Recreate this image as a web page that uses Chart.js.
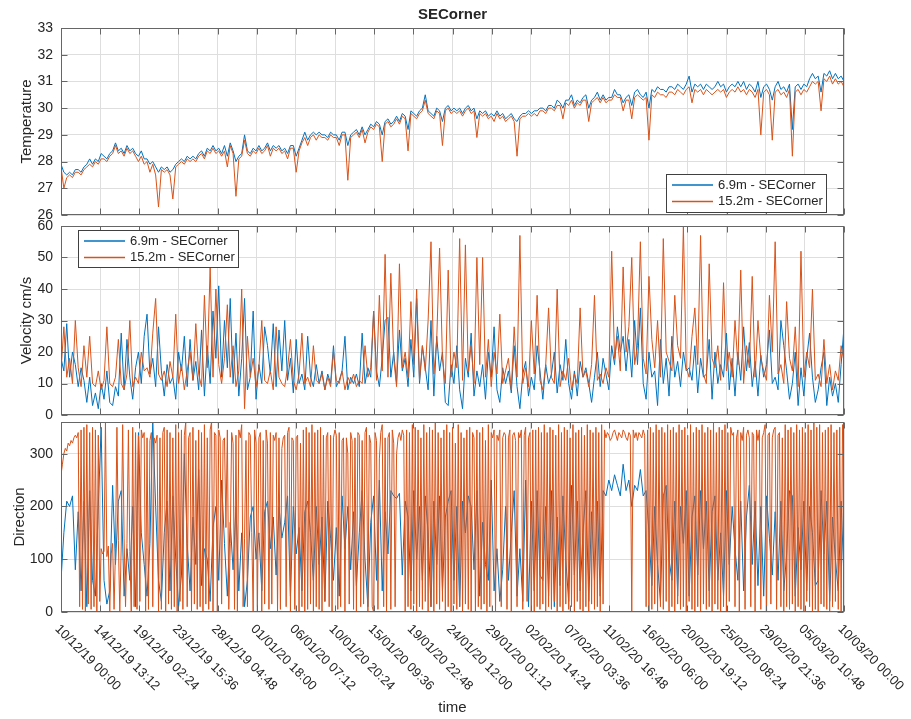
<!DOCTYPE html>
<html>
<head>
<meta charset="utf-8">
<title>SECorner</title>
<script src="https://cdn.jsdelivr.net/npm/chart.js@4.4.1/dist/chart.umd.min.js"></script>
<style>
  body { margin: 0; background: #fff; }
  #wrap { position: relative; width: 911px; height: 719px; overflow: hidden; }
  #wrap canvas { position: absolute; left: 0; }
</style>
</head>
<body>
<div id="wrap">
  <canvas id="tempChart" width="911" height="235" style="top:0px"></canvas>
  <canvas id="velChart" width="911" height="229" style="top:206px"></canvas>
  <canvas id="dirChart" width="911" height="317" style="top:402px"></canvas>
</div>
<script>
// 10/12/19 00:00 to 10/03/20 00:00; most series 8-hourly, 15.2m direction 4-hourly
const totalDays = 91;
const perDay = 3;
const perDayDir152 = 6;

const timeTicks = [
  '10/12/19 00:00', '14/12/19 13:12', '19/12/19 02:24', '23/12/19 15:36',
  '28/12/19 04:48', '01/01/20 18:00', '06/01/20 07:12', '10/01/20 20:24',
  '15/01/20 09:36', '19/01/20 22:48', '24/01/20 12:00', '29/01/20 01:12',
  '02/02/20 14:24', '07/02/20 03:36', '11/02/20 16:48', '16/02/20 06:00',
  '20/02/20 19:12', '25/02/20 08:24', '29/02/20 21:36', '05/03/20 10:48',
  '10/03/20 00:00'
];

const name69 = '6.9m - SECorner';
const name152 = '15.2m - SECorner';

const temp69 = [
  27.9, 27.6, 27.5, 27.6, 27.5, 27.7, 27.7, 27.6, 27.8, 27.9, 28.1, 27.9,
  28.1, 28.0, 28.3, 28.2, 28.1, 28.3, 28.4, 28.7, 28.4, 28.5, 28.3, 28.6,
  28.4, 28.5, 28.3, 28.2, 28.4, 28.1, 28.1, 27.9, 28.0, 27.8, 27.6, 27.8,
  27.7, 27.8, 27.6, 27.7, 27.9, 28.0, 28.1, 28.0, 28.2, 28.1, 28.2, 28.1,
  28.3, 28.4, 28.2, 28.5, 28.4, 28.6, 28.4, 28.5, 28.3, 28.6, 28.2, 28.7,
  28.4, 28.0, 28.2, 28.3, 29.0, 28.4, 28.3, 28.5, 28.4, 28.6, 28.4, 28.5,
  28.7, 28.4, 28.6, 28.5, 28.6, 28.4, 28.5, 28.3, 28.6, 28.6, 28.2, 28.5,
  28.8, 29.1, 28.8, 29.0, 29.1, 29.0, 29.1, 29.0, 29.0, 28.9, 29.1, 29.0,
  29.0, 28.8, 29.1, 29.1, 28.6, 29.0, 29.1, 29.2, 29.0, 29.3, 29.0, 29.2,
  29.4, 29.3, 29.5, 29.4, 29.0, 29.5, 29.6, 29.4, 29.5, 29.7, 29.5, 29.8,
  29.7, 29.2, 29.9, 29.8, 29.7, 29.9, 30.0, 30.5, 29.9, 29.8, 29.7, 30.0,
  29.9, 29.5, 30.0, 30.1, 29.9, 30.0, 29.9, 30.0, 29.8, 30.0, 30.1, 29.9,
  30.0, 29.6, 29.9, 29.8, 29.9, 29.7, 29.8, 29.7, 29.9, 29.7, 29.8, 29.6,
  29.7, 29.8, 29.6, 29.5, 29.7, 29.8, 29.8, 29.9, 29.8, 29.9, 29.9, 30.0,
  30.0, 29.9, 30.1, 30.1, 30.0, 30.3, 30.2, 30.0, 30.3, 30.3, 30.5, 30.1,
  30.3, 30.2, 30.4, 30.5, 30.0, 30.3, 30.4, 30.6, 30.3, 30.5, 30.3, 30.4,
  30.4, 30.7, 30.5, 30.5, 30.2, 30.4, 30.5, 30.1, 30.6, 30.7, 30.5, 30.4,
  30.6, 30.0, 30.7, 30.6, 30.8, 30.7, 30.7, 30.6, 30.8, 30.8, 30.7, 30.9,
  30.8, 30.7, 30.9, 31.2, 30.6, 30.9, 30.8, 30.9, 30.7, 30.9, 30.8, 30.7,
  30.8, 31.0, 30.8, 30.9, 30.6, 30.8, 30.9, 30.8, 31.0, 30.8, 31.0, 30.7,
  30.9, 30.8, 30.6, 31.0, 30.4, 30.8, 30.9, 30.7, 30.3, 30.8, 31.0, 30.7,
  30.8, 30.6, 30.9, 29.2, 30.8, 30.9, 30.7, 30.9, 30.8, 31.1, 31.3, 31.1,
  31.2, 30.6, 31.3, 31.2, 31.4, 31.1, 31.3, 31.1, 31.2, 31.0
];

const temp152 = [
  27.8, 27.0, 27.4, 27.5, 27.4, 27.6, 27.6, 27.5, 27.7, 27.8, 27.9, 27.8,
  28.0, 27.9, 28.1, 28.1, 28.0, 28.2, 28.3, 28.6, 28.3, 28.4, 28.2, 28.5,
  28.3, 28.4, 28.2, 28.0, 28.2, 27.9, 28.0, 27.6, 27.9, 27.5, 26.3, 27.7,
  27.6, 27.7, 27.5, 26.6, 27.8, 27.9, 28.0, 27.9, 28.1, 28.0, 28.1, 28.0,
  28.2, 28.3, 28.1, 28.4, 28.3, 28.5, 28.3, 28.4, 28.2, 28.4, 27.8, 28.6,
  28.3, 26.7, 28.1, 28.2, 28.8, 28.3, 28.2, 28.4, 28.3, 28.5, 28.3, 28.4,
  28.6, 28.2, 28.5, 28.4, 28.5, 28.3, 28.4, 28.1, 28.5, 28.5, 27.6, 28.4,
  28.7, 28.9, 28.6, 28.9, 29.0, 28.8, 29.0, 28.9, 28.9, 28.8, 29.0, 28.9,
  28.9, 28.6, 29.0, 29.0, 27.3, 28.9, 29.0, 29.1, 28.9, 29.2, 28.7, 29.1,
  29.3, 29.2, 29.4, 29.3, 28.0, 29.4, 29.5, 29.3, 29.4, 29.6, 29.4, 29.7,
  29.6, 28.4, 29.8, 29.7, 29.6, 29.8, 29.9, 30.3, 29.8, 29.7, 29.6, 29.9,
  29.8, 28.6, 29.9, 30.0, 29.8, 29.9, 29.8, 29.9, 29.7, 29.9, 30.0, 29.8,
  29.9, 28.9, 29.8, 29.7, 29.8, 29.6, 29.7, 29.5, 29.8, 29.6, 29.7, 29.5,
  29.6, 29.7, 29.5, 28.2, 29.6, 29.7, 29.7, 29.8, 29.7, 29.8, 29.7, 29.9,
  29.9, 29.8, 30.0, 30.0, 29.9, 30.1, 30.1, 29.6, 30.2, 30.1, 30.3, 30.0,
  30.2, 30.1, 30.3, 30.3, 29.5, 30.2, 30.3, 30.4, 30.2, 30.4, 30.2, 30.3,
  30.3, 30.5, 30.4, 30.4, 29.9, 30.3, 30.3, 29.6, 30.4, 30.5, 30.4, 30.3,
  30.4, 28.8, 30.5, 30.4, 30.6, 30.5, 30.5, 30.4, 30.6, 30.6, 30.5, 30.7,
  30.6, 30.5, 30.7, 30.8, 30.2, 30.7, 30.6, 30.7, 30.5, 30.7, 30.6, 30.5,
  30.6, 30.7, 30.6, 30.7, 30.4, 30.6, 30.7, 30.6, 30.8, 30.6, 30.7, 30.5,
  30.7, 30.6, 30.4, 30.7, 29.0, 30.6, 30.7, 30.5, 28.8, 30.6, 30.7, 30.5,
  30.6, 30.4, 30.7, 28.2, 30.6, 30.7, 30.5, 30.7, 30.6, 30.8, 31.0, 30.9,
  31.0, 29.9, 31.1, 31.0, 31.2, 30.9, 31.1, 30.9, 31.0, 30.8
];

const vel69 = [
  18, 14, 29, 12, 20, 16, 9, 15, 11, 4, 12, 3,
  7, 2, 10, 5, 14, 4, 3, 9, 6, 26, 8, 24,
  12, 5, 15, 20, 10, 25, 32, 13, 18, 9, 28, 14,
  6, 16, 10, 12, 5, 20, 14, 25, 9, 24, 11, 17,
  8, 27, 6, 22, 10, 33, 18, 41, 12, 30, 15, 37,
  10, 26, 6, 18, 37, 8, 12, 33, 5, 16, 10, 28,
  22, 13, 29, 9, 27, 14, 30, 11, 18, 7, 24, 10,
  13, 8, 25, 12, 9, 16, 10, 14, 8, 13, 10, 22,
  9, 11, 14, 25, 8, 12, 10, 13, 9, 26, 10, 15,
  12, 33, 14, 9, 18, 30, 31, 12, 20, 10, 27, 14,
  18, 9, 24, 12, 37, 10, 22, 15, 8, 30, 6, 25,
  14, 20, 4, 3, 16, 10, 22, 8, 2, 18, 12, 26,
  6, 14, 9, 16, 5, 20, 12, 28, 8, 4, 15, 10,
  14, 7, 22, 9, 2, 13, 17, 6, 12, 8, 22, 14,
  5, 16, 10, 13, 20, 7, 16, 11, 24, 10, 5, 14,
  6, 17, 12, 15, 10, 4, 12, 20, 9, 18, 13, 8,
  22, 16, 28, 20, 25, 14, 24, 12, 30, 16, 34, 10,
  5, 20, 12, 14, 3, 24, 10, 18, 6, 25, 12, 17,
  9, 20, 14, 15, 11, 22, 7, 18, 12, 13, 24, 5,
  20, 10, 16, 12, 26, 8, 18, 6, 20, 11, 28, 14,
  23, 9, 17, 6, 19, 12, 16, 27, 10, 12, 8, 30,
  22, 14, 5, 10, 20, 3, 15, 6, 18, 26, 12, 4,
  8, 15, 20, 3, 12, 6, 10, 4, 16, 28
];

const vel152 = [
  14, 28, 12, 18, 10, 30, 15, 9, 22, 12, 25, 10,
  9, 14, 8, 11, 28, 10, 9, 12, 24, 10, 8, 13,
  30, 9, 12, 10, 20, 14, 15, 12, 26, 37, 13, 11,
  14, 9, 17, 12, 32, 10, 16, 8, 14, 20, 11, 29,
  13, 9, 38, 15, 47, 12, 40, 16, 10, 18, 35, 12,
  22, 9, 14, 40, 2, 25, 12, 18, 9, 15, 30, 11,
  10, 14, 8, 28, 12, 10, 9, 15, 24, 11, 8, 13,
  26, 10, 12, 9, 22, 11, 10, 13, 8, 12, 9, 20,
  11, 10, 14, 8, 12, 10, 13, 9, 11, 10, 22, 12,
  15, 33, 11, 38, 14, 51, 12, 45, 18, 9, 48, 15,
  20, 12, 36, 16, 40, 11, 22, 14, 30, 55, 13, 24,
  53, 18, 10, 46, 12, 20, 15, 56, 11, 54, 14, 22,
  10, 50, 16, 50, 12, 24, 9, 20, 13, 32, 10, 14,
  18, 8, 28, 12, 57, 10, 15, 9, 30, 13, 38, 11,
  8, 16, 34, 12, 10, 40, 9, 14, 11, 18, 8, 13,
  10, 34, 12, 14, 9, 16, 38, 11, 13, 10, 15, 12,
  52, 18, 25, 14, 47, 20, 28, 50, 16, 22, 55, 18,
  13, 44, 24, 15, 30, 12, 56, 20, 17, 14, 38, 22,
  18, 60, 15, 12, 25, 34, 16, 57, 13, 10, 48, 18,
  15, 22, 11, 42, 14, 20, 12, 30, 16, 46, 10, 22,
  15, 44, 12, 30, 18, 14, 11, 38, 20, 55, 13, 16,
  10, 36, 18, 14, 28, 9, 52, 12, 20, 15, 40, 11,
  13, 9, 24, 10, 16, 8, 14, 11, 22, 17
];

const dir69 = [
  60, 150, 210, 200, 220, 80, 190, 40, 210, 10, 230, 60,
  30, 200, 350, 60, 15, 40, 240, 90, 210, 230, 30, 120,
  60, 200, 10, 340, 150, 90, 30, 130, 360, 200, 60, 20,
  150, 210, 40, 220, 100, 10, 70, 300, 130, 40, 180, 90,
  270, 50, 120, 100, 20, 160, 200, 60, 250, 130, 30, 170,
  80, 200, 40, 150, 10, 60, 180, 200, 100, 150, 40, 190,
  210, 120, 180, 70, 200, 140, 170, 220, 30, 200, 110, 160,
  40, 190, 210, 150, 60, 200, 90, 180, 20, 210, 140, 60,
  160, 30, 220, 120, 200, 80, 190, 50, 150, 230, 100, 10,
  170, 220, 60, 250, 40, 190, 110, 230, 220, 215, 225, 70,
  210, 180, 40, 230, 100, 200, 60, 220, 150, 10, 210, 90,
  220, 40, 180, 210, 230, 60, 200, 10, 210, 150, 220, 200,
  80, 230, 30, 170, 90, 60, 250, 40, 120, 20, 80, 200,
  60, 150, 230, 30, 120, 20, 250, 10, 210, 40, 230, 70,
  60, 200, 30, 230, 10, 180, 50, 220, 100, 20, 240, 70,
  210, 40, 150, 230, 20, 190, 60, 210, 30, 230, 220, 250,
  230, 260, 240, 220, 280, 230, 250, 200, 240, 230, 270, 220,
  230, 150, 50, 200, 90, 20, 220, 240, 100, 60, 210, 30,
  200, 130, 230, 30, 180, 220, 70, 230, 120, 210, 40, 190,
  220, 60, 150, 30, 230, 90, 200, 120, 60, 210, 40, 180,
  240, 90, 210, 50, 200, 30, 220, 140, 70, 190, 60, 210,
  40, 110, 230, 220, 30, 160, 80, 210, 40, 200, 150, 50,
  60, 230, 110, 210, 20, 180, 100, 40, 210, 60
];

const dir152 = [
  260, 280, 300, 310, 305, 320, 315, 325, 320, 330, 335, 330,
  340, 10, 345, 5, 350, 0, 355, 15, 340, 5, 350, 10,
  345, 0, 335, 20, 120, 110, 115, 360, 105, 125, 0, 110,
  130, 5, 120, 350, 135, 0, 125, 355, 140, 10, 130, 345,
  115, 0, 350, 10, 340, 5, 335, 20, 345, 330, 340, 0,
  330, 5, 325, 340, 10, 330, 320, 335, 0, 330, 5, 340,
  350, 0, 345, 15, 340, 5, 330, 10, 355, 0, 340, 20,
  345, 5, 335, 360, 10, 330, 340, 0, 350, 15, 325, 5,
  345, 10, 340, 0, 355, 15, 330, 5, 345, 360, 0, 340,
  335, 0, 345, 330, 15, 325, 330, 160, 345, 5, 130, 340,
  320, 5, 335, 0, 345, 330, 355, 10, 140, 325, 10, 340,
  335, 150, 0, 345, 320, 10, 330, 340, 0, 325, 15, 345,
  320, 5, 340, 15, 335, 325, 340, 0, 330, 5, 310, 330,
  335, 10, 340, 350, 0, 330, 325, 5, 330, 335, 0, 320,
  10, 345, 0, 350, 5, 340, 15, 355, 0, 340, 10, 345,
  5, 350, 0, 335, 20, 330, 340, 10, 335, 0, 330, 345,
  335, 5, 340, 10, 325, 330, 0, 330, 300, 15, 340, 325,
  5, 330, 0, 340, 335, 10, 325, 15, 340, 350, 0, 335,
  320, 10, 0, 340, 325, 5, 290, 340, 355, 10, 330, 0,
  330, 340, 5, 345, 320, 10, 300, 330, 340, 325, 345, 335,
  0, 345, 10, 340, 5, 355, 15, 350, 0, 345, 10, 330,
  5, 355, 20, 340, 0, 350, 10, 345, 0, 360, 15, 340,
  5, 330, 20, 345, 0, 355, 10, 340, 0, 350, 15, 320,
  5, 355, 10, 340, 0, 330, 15, 345, 5, 350, 0, 340,
  330, 0, 345, 10, 340, 5, 350, 15, 325, 0, 355, 10,
  340, 330, 345, 0, 335, 325, 345, 10, 330, 340, 335, 5,
  330, 345, 0, 335, 340, 325, 10, 340, 330, 345, 5, 335,
  350, 20, 330, 340, 0, 345, 0, 345, 10, 350, 5, 340,
  15, 355, 0, 340, 10, 350, 5, 345, 20, 335, 0, 355,
  10, 340, 0, 350, 15, 345, 5, 330, 10, 355, 0, 340,
  20, 345, 5, 350, 0, 335, 10, 355, 0, 345, 15, 340,
  5, 350, 10, 340, 0, 355, 15, 345, 330, 340, 335, 325,
  330, 340, 345, 335, 325, 340, 335, 330, 345, 340, 330, 325,
  340, 335, 0, 345, 330, 340, 325, 340, 335, 330, 345, 335,
  10, 345, 0, 350, 5, 340, 15, 355, 0, 345, 10, 350,
  5, 340, 20, 355, 0, 345, 10, 350, 0, 340, 15, 355,
  5, 345, 10, 350, 0, 335, 20, 355, 5, 340, 0, 350,
  10, 345, 0, 355, 15, 340, 5, 350, 10, 345, 0, 360,
  15, 340, 5, 350, 0, 345, 10, 355, 0, 340, 20, 350,
  335, 340, 10, 330, 345, 0, 340, 325, 350, 5, 335, 345,
  330, 10, 340, 335, 0, 345, 325, 345, 5, 330, 340, 355,
  0, 335, 340, 15, 330, 345, 350, 5, 335, 340, 10, 330,
  0, 355, 10, 345, 5, 350, 15, 340, 0, 355, 10, 345,
  5, 350, 0, 340, 20, 355, 10, 345, 0, 360, 5, 350,
  0, 355, 15, 340, 10, 345, 5, 350, 0, 355, 10, 340,
  20, 345, 5, 350, 0, 355, 340
];

const BLUE = '#0072BD';
const ORANGE = '#D95319';
const GRID = '#dedede';
const AXIS = '#666666';
const TEXT = '#262626';
const FONT = "'Liberation Sans', Arial, Helvetica, sans-serif";

const tickDays = timeTicks.map((_, k) => k * totalDays / (timeTicks.length - 1));
const toXY = (vals, n) => vals.map((v, i) => ({ x: i / n, y: v }));

// matlab-style box, inward ticks, axis titles and inset legend
const framePlugin = {
  id: 'frame',
  afterDraw(chart, args, o) {
    const { ctx, chartArea: a } = chart;
    const xs = chart.scales.x, ys = chart.scales.y;
    const L = Math.round(a.left) + 0.5, R = Math.round(a.right) - 0.5;
    const T = Math.round(a.top) + 0.5, B = Math.round(a.bottom) - 0.5;
    ctx.save();
    ctx.strokeStyle = AXIS;
    ctx.lineWidth = 1;
    ctx.beginPath();
    xs.ticks.forEach(t => {
      const px = Math.round(xs.getPixelForValue(t.value)) + 0.5;
      ctx.moveTo(px, T); ctx.lineTo(px, T + 6);
      ctx.moveTo(px, B); ctx.lineTo(px, B - 6);
    });
    ys.ticks.forEach(t => {
      const py = Math.round(ys.getPixelForValue(t.value)) + 0.5;
      ctx.moveTo(L, py); ctx.lineTo(L + 6, py);
      ctx.moveTo(R, py); ctx.lineTo(R - 6, py);
    });
    ctx.stroke();
    ctx.strokeRect(L, T, R - L, B - T);

    ctx.fillStyle = TEXT;
    // y axis title
    ctx.font = '15px ' + FONT;
    ctx.textAlign = 'center';
    ctx.textBaseline = 'middle';
    ctx.save();
    ctx.translate(o.yTitleX, (a.top + a.bottom) / 2);
    ctx.rotate(-Math.PI / 2);
    ctx.fillText(o.yTitle, 0, 0);
    ctx.restore();

    if (o.title) {
      ctx.font = 'bold 15px ' + FONT;
      ctx.fillText(o.title, (a.left + a.right) / 2, 15);
    }

    if (o.timeAxis) {
      ctx.font = '13px ' + FONT;
      ctx.textAlign = 'left';
      timeTicks.forEach((lbl, k) => {
        const px = xs.getPixelForValue(tickDays[k]);
        ctx.save();
        ctx.translate(px - 4, a.bottom + 15);
        ctx.rotate(Math.PI / 4);
        ctx.fillText(lbl, 0, 0);
        ctx.restore();
      });
      ctx.textAlign = 'center';
      ctx.font = '15px ' + FONT;
      ctx.fillText('time', (a.left + a.right) / 2, a.bottom + 96);
    }

    if (o.legend) {
      const lg = o.legend;
      const bx = lg.align === 'right' ? Math.round(a.right) - lg.dx - lg.w : Math.round(a.left) + lg.dx;
      const by = lg.valign === 'bottom' ? Math.round(a.bottom) - lg.dy - lg.h : Math.round(a.top) + lg.dy;
      ctx.fillStyle = '#ffffff';
      ctx.fillRect(bx, by, lg.w, lg.h);
      ctx.strokeStyle = '#404040';
      ctx.strokeRect(bx + 0.5, by + 0.5, lg.w, lg.h);
      ctx.font = '13px ' + FONT;
      ctx.textAlign = 'left';
      chart.data.datasets.forEach((ds, i) => {
        const ry = by + 11 + i * 16.5;
        ctx.strokeStyle = ds.borderColor;
        ctx.lineWidth = 1.5;
        ctx.beginPath();
        ctx.moveTo(bx + 6, ry); ctx.lineTo(bx + 47, ry);
        ctx.stroke();
        ctx.fillStyle = TEXT;
        ctx.fillText(ds.label, bx + 52, ry);
      });
    }
    ctx.restore();
  }
};

function makePanel(id, cfg) {
  return new Chart(document.getElementById(id), {
    type: 'line',
    data: {
      datasets: [
        { label: name69, data: toXY(cfg.blue, perDay), borderColor: BLUE, order: 1 },
        { label: name152, data: toXY(cfg.orange, cfg.orangePerDay || perDay), borderColor: ORANGE, order: 0 }
      ]
    },
    options: {
      responsive: false,
      animation: false,
      events: [],
      layout: { padding: cfg.padding },
      elements: {
        point: { radius: 0 },
        line: { borderWidth: 1, tension: 0 }
      },
      plugins: {
        legend: { display: false },
        tooltip: { enabled: false },
        frame: cfg.frame
      },
      scales: {
        x: {
          type: 'linear',
          min: 0,
          max: totalDays,
          afterBuildTicks: s => { s.ticks = tickDays.map(v => ({ value: v })); },
          afterFit: s => { s.height = 0; },
          ticks: { display: false },
          grid: { color: GRID, drawTicks: false },
          border: { display: false }
        },
        y: {
          min: cfg.min,
          max: cfg.max,
          afterBuildTicks: s => { s.ticks = s.ticks.filter(t => t.value % cfg.step === 0); },
          afterFit: s => { s.width = 61; },
          ticks: { stepSize: cfg.step, padding: 8, color: TEXT, font: { family: FONT, size: 14 } },
          grid: { color: GRID, drawTicks: false },
          border: { display: false }
        }
      }
    },
    plugins: [framePlugin]
  });
}

makePanel('tempChart', {
  blue: temp69, orange: temp152,
  min: 26, max: 33, step: 1,
  padding: { top: 28, bottom: 20, left: 0, right: 67 },
  frame: {
    yTitle: 'Temperature', yTitleX: 27, title: 'SECorner',
    legend: { align: 'right', valign: 'bottom', dx: 18, dy: 3, w: 160, h: 38 }
  }
});

makePanel('velChart', {
  blue: vel69, orange: vel152,
  min: 0, max: 60, step: 10,
  padding: { top: 20, bottom: 20, left: 0, right: 67 },
  frame: {
    yTitle: 'Velocity cm/s', yTitleX: 27,
    legend: { align: 'left', valign: 'top', dx: 17, dy: 4, w: 160, h: 37 }
  }
});

makePanel('dirChart', {
  blue: dir69, orange: dir152, orangePerDay: perDayDir152,
  min: 0, max: 360, step: 100,
  padding: { top: 20, bottom: 107, left: 0, right: 67 },
  frame: { yTitle: 'Direction', yTitleX: 20, timeAxis: true }
});
</script>
</body>
</html>
